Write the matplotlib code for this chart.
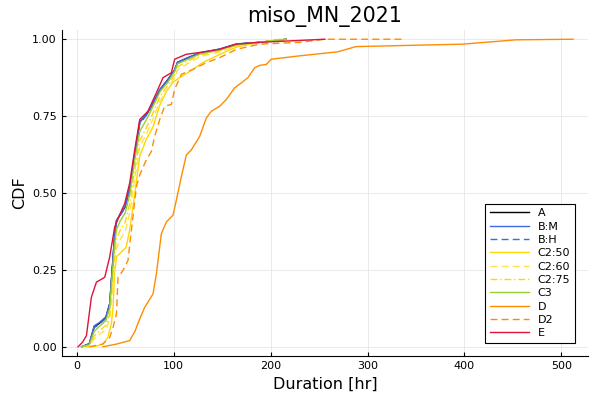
import matplotlib
matplotlib.use("Agg")
import matplotlib.pyplot as plt

title = "miso_MN_2021"
xlabel = "Duration [hr]"
ylabel = "CDF"
xticks = [0, 100, 200, 300, 400, 500]
yticks = [0.0, 0.25, 0.5, 0.75, 1.0]
ytick_labels = ["0.00", "0.25", "0.50", "0.75", "1.00"]

x_bundle = [5, 13, 18, 23, 30, 34, 37, 39, 41, 45, 50, 55, 60, 65, 73, 80, 86, 94, 101, 104, 115, 127, 147, 165, 189, 216]

A_y = [0, 0.01, 0.065, 0.075, 0.095, 0.14, 0.27, 0.36, 0.41, 0.43, 0.455, 0.52, 0.63, 0.73, 0.76, 0.80, 0.837, 0.869, 0.90, 0.925, 0.94, 0.955, 0.967, 0.984, 0.99, 1.0]
BM_y = [0, 0.01, 0.068, 0.078, 0.097, 0.14, 0.27, 0.36, 0.41, 0.432, 0.457, 0.52, 0.63, 0.73, 0.762, 0.80, 0.838, 0.868, 0.90, 0.925, 0.941, 0.956, 0.968, 0.985, 0.99, 1.0]
BH_y = [0, 0.009, 0.062, 0.072, 0.092, 0.135, 0.265, 0.355, 0.405, 0.428, 0.452, 0.515, 0.625, 0.725, 0.757, 0.797, 0.835, 0.866, 0.898, 0.923, 0.939, 0.954, 0.966, 0.984, 0.99, 1.0]
C3_y = [0, 0.007, 0.05, 0.065, 0.085, 0.125, 0.25, 0.33, 0.38, 0.41, 0.435, 0.50, 0.61, 0.70, 0.745, 0.79, 0.83, 0.86, 0.895, 0.92, 0.935, 0.952, 0.965, 0.982, 0.99, 1.0]
C275_y = [0, 0.005, 0.035, 0.05, 0.07, 0.105, 0.22, 0.30, 0.35, 0.38, 0.405, 0.47, 0.58, 0.67, 0.72, 0.77, 0.815, 0.85, 0.885, 0.91, 0.93, 0.948, 0.962, 0.98, 0.99, 1.0]
C260_y = [0, 0.004, 0.025, 0.04, 0.055, 0.09, 0.19, 0.27, 0.32, 0.35, 0.375, 0.44, 0.55, 0.65, 0.70, 0.75, 0.80, 0.84, 0.875, 0.90, 0.922, 0.943, 0.958, 0.978, 0.99, 1.0]

C250_x = [10, 20, 27, 32, 35.7, 37.5, 39, 41, 46, 51, 54.6, 58, 61.5, 65, 71.8, 78.7, 85.6, 92.5, 99.3, 106, 116.5, 130, 147, 165, 190, 210]
C250_y = [0, 0.002, 0.009, 0.03, 0.074, 0.128, 0.238, 0.292, 0.308, 0.324, 0.379, 0.455, 0.537, 0.62, 0.675, 0.715, 0.785, 0.83, 0.86, 0.875, 0.895, 0.924, 0.95, 0.975, 0.99, 1.0]

D_x = [27, 40, 54.6, 60, 64.9, 70.1, 78.7, 82.2, 87.3, 92.5, 99.3, 102.8, 107.9, 113.1, 118.2, 126.8, 133.7, 138.9, 147.4, 154.3, 162.9, 169.8, 176.6, 183.5, 188.7, 195.5, 200.7, 230, 269, 288, 398, 453, 512]
D_y = [0, 0.008, 0.02, 0.05, 0.09, 0.128, 0.172, 0.238, 0.368, 0.406, 0.428, 0.477, 0.553, 0.624, 0.64, 0.684, 0.744, 0.766, 0.782, 0.804, 0.842, 0.858, 0.875, 0.907, 0.915, 0.918, 0.935, 0.946, 0.959, 0.976, 0.984, 0.998, 1.0]

D2_x = [13, 27, 34, 37.5, 41, 42.6, 47.7, 52.9, 56.4, 61.5, 65, 71.8, 77, 80.4, 85.6, 90.7, 97.6, 101, 108, 120, 133.7, 147.4, 164.6, 188.7, 230, 256, 335]
D2_y = [0, 0.009, 0.03, 0.063, 0.107, 0.226, 0.248, 0.281, 0.379, 0.52, 0.559, 0.608, 0.635, 0.684, 0.739, 0.782, 0.788, 0.837, 0.886, 0.902, 0.924, 0.94, 0.967, 0.984, 0.99, 1.0, 1.0]

E_x = [1.4, 6, 10, 15.1, 20.3, 28.9, 34, 39.2, 42.6, 49.5, 54.6, 59.8, 65, 73.5, 82.2, 89, 97.6, 101, 113, 127, 147, 164.6, 189, 256]
E_y = [0, 0.015, 0.036, 0.161, 0.21, 0.226, 0.292, 0.39, 0.417, 0.466, 0.532, 0.64, 0.739, 0.766, 0.826, 0.875, 0.891, 0.935, 0.951, 0.957, 0.967, 0.984, 0.99, 1.0]

series = [
    ("A", x_bundle, A_y, "black", "-"),
    ("B:M", x_bundle, BM_y, "#4169E1", "-"),
    ("B:H", x_bundle, BH_y, "#4169E1", (0, (5, 3))),
    ("C2:50", C250_x, C250_y, "#FFD700", "-"),
    ("C2:60", x_bundle, C260_y, "#FFE14D", (0, (5, 3))),
    ("C2:75", x_bundle, C275_y, "#FFD700", (0, (5, 2, 1, 2))),
    ("C3", x_bundle, C3_y, "#9ACD32", "-"),
    ("D", D_x, D_y, "#FF8C00", "-"),
    ("D2", D2_x, D2_y, "#FF8C00", (0, (5, 3))),
    ("E", E_x, E_y, "#DC143C", "-"),
]

fig = plt.figure(figsize=(6, 4), dpi=100)
ax = fig.add_axes([0.103, 0.11, 0.877, 0.815])
for name, xs, ys, c, ls in series:
    ax.plot(xs, ys, color=c, linestyle=ls, linewidth=1, label=name)

ax.set_xlim(-15.4, 527.4)
ax.set_ylim(-0.03, 1.03)
ax.set_xticks(xticks)
ax.set_yticks(yticks)
ax.set_yticklabels(ytick_labels)
ax.grid(True, color="#e6e6e6", linewidth=0.6)
ax.set_axisbelow(True)
for s in ["top", "right"]:
    ax.spines[s].set_visible(False)
ax.tick_params(direction="in", length=3, labelsize=8)
ax.set_title(title, fontsize=14.8)
ax.set_xlabel(xlabel, fontsize=11.5)
ax.set_ylabel(ylabel, fontsize=11.5)
leg = ax.legend(loc="lower right", fontsize=8, frameon=True, fancybox=False,
                edgecolor="black", framealpha=1, borderaxespad=1.2, handlelength=3.5,
                labelspacing=0.3, borderpad=0.4)
leg.get_frame().set_linewidth(0.8)
fig.savefig("out.png", dpi=100)
